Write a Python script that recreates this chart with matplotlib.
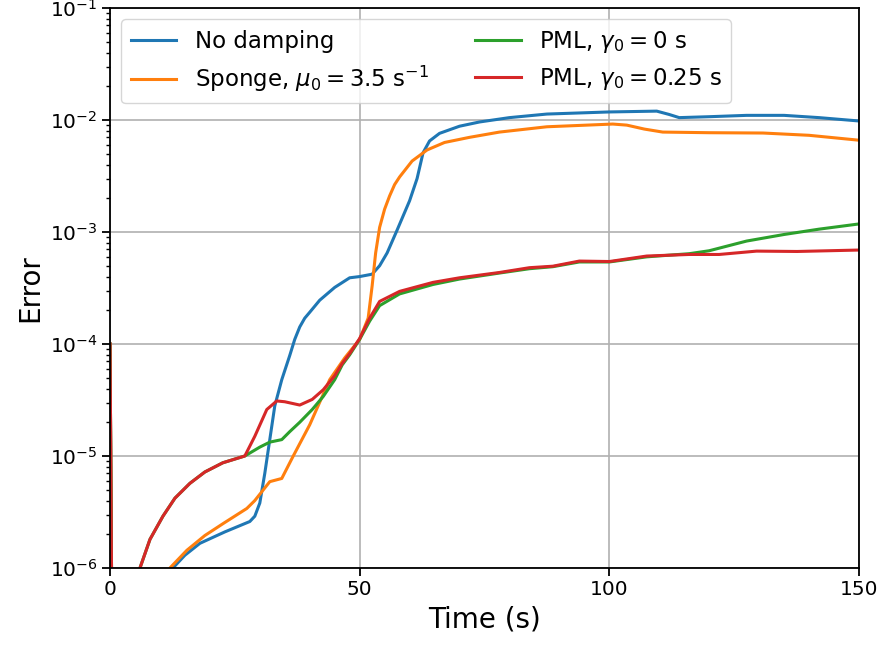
import numpy as np
import matplotlib.pyplot as plt

# values (time in s, error)
t_blue = [0, 0.6, 8, 12.6, 15, 18, 23, 28, 29, 30, 31, 32, 33, 34.4, 36, 37,
          38, 39, 40, 42, 45, 48, 50, 52.5, 54, 55.5, 57.5, 60, 61.5, 62.7,
          64, 66, 70, 74, 80, 87.5, 100, 109.5, 112, 114, 120, 127.5, 135,
          142, 150]
err_blue = [1e-4, 1e-8, 3e-7, 1e-6, 1.3e-6, 1.66e-6, 2.1e-6, 2.6e-6, 2.9e-6,
            3.8e-6, 7e-6, 1.4e-5, 2.8e-5, 4.8e-5, 7.9e-5, 1.1e-4,
            1.42e-4, 1.7e-4, 1.92e-4, 2.46e-4, 3.2e-4, 3.9e-4, 4.0e-4, 4.2e-4,
            5e-4, 6.5e-4, 1.04e-3, 1.9e-3, 3e-3, 5.1e-3,
            6.5e-3, 7.6e-3, 8.8e-3, 9.6e-3, 1.05e-2, 1.13e-2, 1.18e-2, 1.2e-2,
            1.12e-2, 1.05e-2, 1.07e-2, 1.1e-2, 1.1e-2, 1.05e-2, 9.8e-3]

t_orange = [0, 0.6, 8, 12, 15.4, 19, 22.7, 27.4, 29, 32, 34.4, 36.7, 40, 44,
            47, 50, 51.7, 52.5, 53.2, 54, 55, 56, 57, 58, 60.5, 63.5, 67, 72,
            78, 87.5, 100.7, 103.5, 107, 110.7, 120, 130.8, 140, 150]
err_orange = [1e-4, 1e-8, 3e-7, 1e-6, 1.44e-6, 1.95e-6, 2.5e-6, 3.4e-6, 4e-6,
              5.9e-6, 6.3e-6, 1e-5, 1.9e-5, 4.8e-5, 7.5e-5, 1.1e-4, 1.7e-4,
              3.3e-4, 6.5e-4, 1.1e-3, 1.6e-3, 2.1e-3, 2.65e-3, 3.1e-3, 4.3e-3,
              5.4e-3, 6.3e-3, 7e-3, 7.8e-3, 8.7e-3, 9.2e-3, 9e-3, 8.3e-3,
              7.8e-3, 7.7e-3, 7.65e-3, 7.3e-3, 6.6e-3]

t_green = [0, 0.6, 3, 6, 8, 10.6, 13, 16, 19, 22.6, 27, 30, 32, 34.4, 36, 38,
           40.5, 42.7, 45, 46.5, 48, 50, 52, 54, 58, 64.7, 70, 78, 84, 88.7,
           94, 100, 107.5, 116, 120, 127.5, 135, 142, 150]
err_green = [1e-4, 1e-8, 1.5e-7, 1e-6, 1.8e-6, 2.9e-6, 4.2e-6, 5.7e-6, 7.2e-6,
             8.7e-6, 1e-5, 1.2e-5, 1.33e-5, 1.4e-5, 1.65e-5, 2e-5,
             2.6e-5, 3.4e-5, 4.8e-5, 6.5e-5, 8e-5, 1.1e-4, 1.6e-4, 2.2e-4,
             2.8e-4, 3.4e-4, 3.8e-4, 4.3e-4, 4.7e-4, 4.9e-4,
             5.4e-4, 5.4e-4, 6.0e-4, 6.4e-4, 6.8e-4, 8.3e-4, 9.5e-4, 1.06e-3,
             1.18e-3]

t_red = [0, 0.6, 3, 6, 8, 10.6, 13, 16, 19, 22.6, 27, 29, 31.4, 33.4, 35, 38,
         40.5, 42.7, 45, 46.5, 48, 50, 52, 54, 58, 64.7, 70, 78, 84, 88.7,
         94, 100, 107.5, 116, 122, 129.5, 137.6, 150]
err_red = [1e-4, 1e-8, 1.5e-7, 1e-6, 1.8e-6, 2.9e-6, 4.2e-6, 5.7e-6, 7.2e-6,
           8.7e-6, 1e-5, 1.5e-5, 2.6e-5, 3.1e-5, 3.05e-5, 2.85e-5,
           3.2e-5, 3.9e-5, 5.2e-5, 6.7e-5, 8.2e-5, 1.12e-4, 1.7e-4, 2.4e-4,
           2.95e-4, 3.55e-4, 3.9e-4, 4.35e-4, 4.8e-4, 4.95e-4,
           5.5e-4, 5.45e-4, 6.1e-4, 6.3e-4, 6.3e-4, 6.75e-4, 6.7e-4, 6.9e-4]

labels = ["No damping", r"Sponge, $\mu_0 = 3.5$ s$^{-1}$",
          r"PML, $\gamma_0 = 0$ s", r"PML, $\gamma_0 = 0.25$ s"]

fig = plt.figure(figsize=(8.78, 6.45), dpi=100)
ax = fig.add_axes([0.1253, 0.1194, 0.853, 0.8682])

ax.plot(t_blue, err_blue, color="tab:blue", lw=2.2, label=labels[0])
ax.plot(t_orange, err_orange, color="tab:orange", lw=2.2, label=labels[1])
ax.plot(t_green, err_green, color="tab:green", lw=2.2, label=labels[2])
ax.plot(t_red, err_red, color="tab:red", lw=2.2, label=labels[3])

ax.set_yscale("log")
ax.set_xlim(0, 150)
ax.set_ylim(1e-6, 1e-1)
ax.set_xticks([0, 50, 100, 150])
ax.grid(True, which="major", color="#b0b0b0", lw=1.2)
ax.tick_params(labelsize=14.5, width=1.3, length=5.5)
ax.tick_params(which="minor", width=1, length=3)
for s in ax.spines.values():
    s.set_linewidth(1.3)
ax.set_xlabel("Time (s)", fontsize=20)
ax.set_ylabel("Error", fontsize=20)
ax.legend(loc="upper left", ncol=2, fontsize=16.5, handlelength=2.0)

fig.savefig("out.png", dpi=100)
